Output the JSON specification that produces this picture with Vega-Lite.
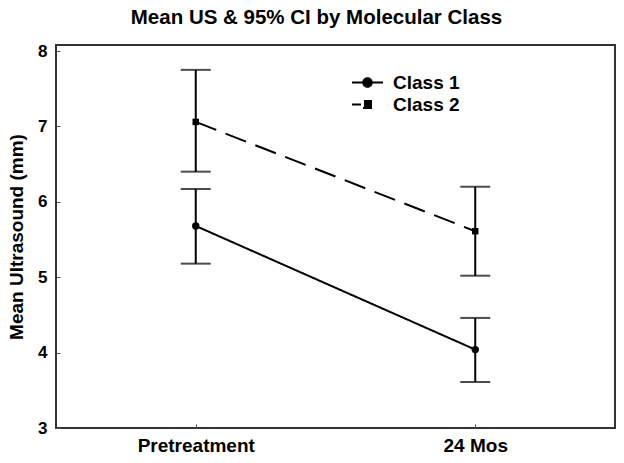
{
  "$schema": "https://vega.github.io/schema/vega-lite/v6.json",
  "width": 559,
  "height": 383,
  "autosize": {"type": "none"},
  "padding": {"left": 56, "top": 45, "right": 9, "bottom": 35},
  "background": "white",
  "title": {
    "text": "Mean US & 95% CI by Molecular Class",
    "font": "Liberation Sans",
    "fontSize": 20.5,
    "fontWeight": "bold",
    "color": "black",
    "anchor": "middle",
    "dx": -19,
    "offset": 14
  },
  "config": {
    "view": {"stroke": "#333", "strokeWidth": 2},
    "font": "Liberation Sans"
  },
  "data": {
    "values": [
      {"class": "Class 1", "time": "Pretreatment", "mean": 5.68, "lo": 5.18, "hi": 6.17},
      {"class": "Class 1", "time": "24 Mos", "mean": 4.04, "lo": 3.61, "hi": 4.46},
      {"class": "Class 2", "time": "Pretreatment", "mean": 7.06, "lo": 6.40, "hi": 7.75},
      {"class": "Class 2", "time": "24 Mos", "mean": 5.61, "lo": 5.02, "hi": 6.20}
    ]
  },
  "encoding": {
    "x": {
      "field": "time",
      "type": "nominal",
      "sort": ["Pretreatment", "24 Mos"],
      "scale": {"type": "point", "padding": 0.5},
      "axis": {
        "title": null,
        "labelAngle": 0,
        "labelFont": "Liberation Sans",
        "labelFontSize": 19,
        "labelFontWeight": "bold",
        "labelColor": "black",
        "labelPadding": 12,
        "domain": false,
        "tickSize": -4,
        "tickColor": "#555",
        "grid": false
      }
    }
  },
  "layer": [
    {
      "mark": {"type": "rule", "strokeWidth": 2, "color": "black"},
      "encoding": {
        "y": {
          "field": "lo",
          "type": "quantitative",
          "scale": {"domain": [3, 8.08], "nice": false, "zero": false},
          "axis": {
            "title": "Mean Ultrasound (mm)",
            "titleFont": "Liberation Sans",
            "titleFontSize": 19,
            "titleFontWeight": "bold",
            "titleColor": "black",
            "titlePadding": 11,
            "values": [3, 4, 5, 6, 7, 8],
            "format": "d",
            "labelFont": "Liberation Sans",
            "labelFontSize": 17,
            "labelFontWeight": "bold",
            "labelColor": "black",
            "labelPadding": 13,
            "domain": false,
            "tickSize": -4,
            "tickColor": "#555",
            "grid": false
          }
        },
        "y2": {"field": "hi"}
      }
    },
    {
      "mark": {"type": "tick", "thickness": 2, "size": 30, "color": "black"},
      "encoding": {"y": {"field": "lo", "type": "quantitative"}}
    },
    {
      "mark": {"type": "tick", "thickness": 2, "size": 30, "color": "black"},
      "encoding": {"y": {"field": "hi", "type": "quantitative"}}
    },
    {
      "mark": {"type": "line", "strokeWidth": 2},
      "encoding": {
        "y": {"field": "mean", "type": "quantitative"},
        "strokeDash": {
          "field": "class",
          "type": "nominal",
          "scale": {"domain": ["Class 1", "Class 2"], "range": [[1, 0], [22, 10]]},
          "legend": null
        },
        "color": {
          "field": "class",
          "type": "nominal",
          "scale": {"domain": ["Class 1", "Class 2"], "range": ["black", "black"]},
          "legend": {
            "title": null,
            "orient": "none",
            "legendX": 302,
            "legendY": 28,
            "symbolSize": 100,
            "labelFont": "Liberation Sans",
            "labelFontSize": 19,
            "labelFontWeight": "bold",
            "labelColor": "black",
            "labelOffset": 16,
            "rowPadding": 2,
            "encode": {
              "symbols": {
                "update": {
                  "shape": {"signal": "datum.value === 'Class 1' ? 'M-3.1,0H3.1M0.85,0A0.85,0.85,0,1,1,-0.85,0A0.85,0.85,0,1,1,0.85,0Z' : 'M-3.1,0H-1.3M-0.7,-0.7H0.7V0.7H-0.7Z'"},
                  "fill": {"value": "black"},
                  "stroke": {"value": "black"},
                  "strokeWidth": {"value": 2}
                }
              }
            }
          }
        }
      }
    },
    {
      "transform": [{"filter": "datum['class'] === 'Class 1'"}],
      "mark": {"type": "point", "filled": true, "opacity": 1, "color": "black", "size": 55, "shape": "circle"},
      "encoding": {"y": {"field": "mean", "type": "quantitative"}}
    },
    {
      "transform": [{"filter": "datum['class'] === 'Class 2'"}],
      "mark": {"type": "point", "filled": true, "opacity": 1, "color": "black", "size": 42, "shape": "square"},
      "encoding": {"y": {"field": "mean", "type": "quantitative"}}
    }
  ]
}
